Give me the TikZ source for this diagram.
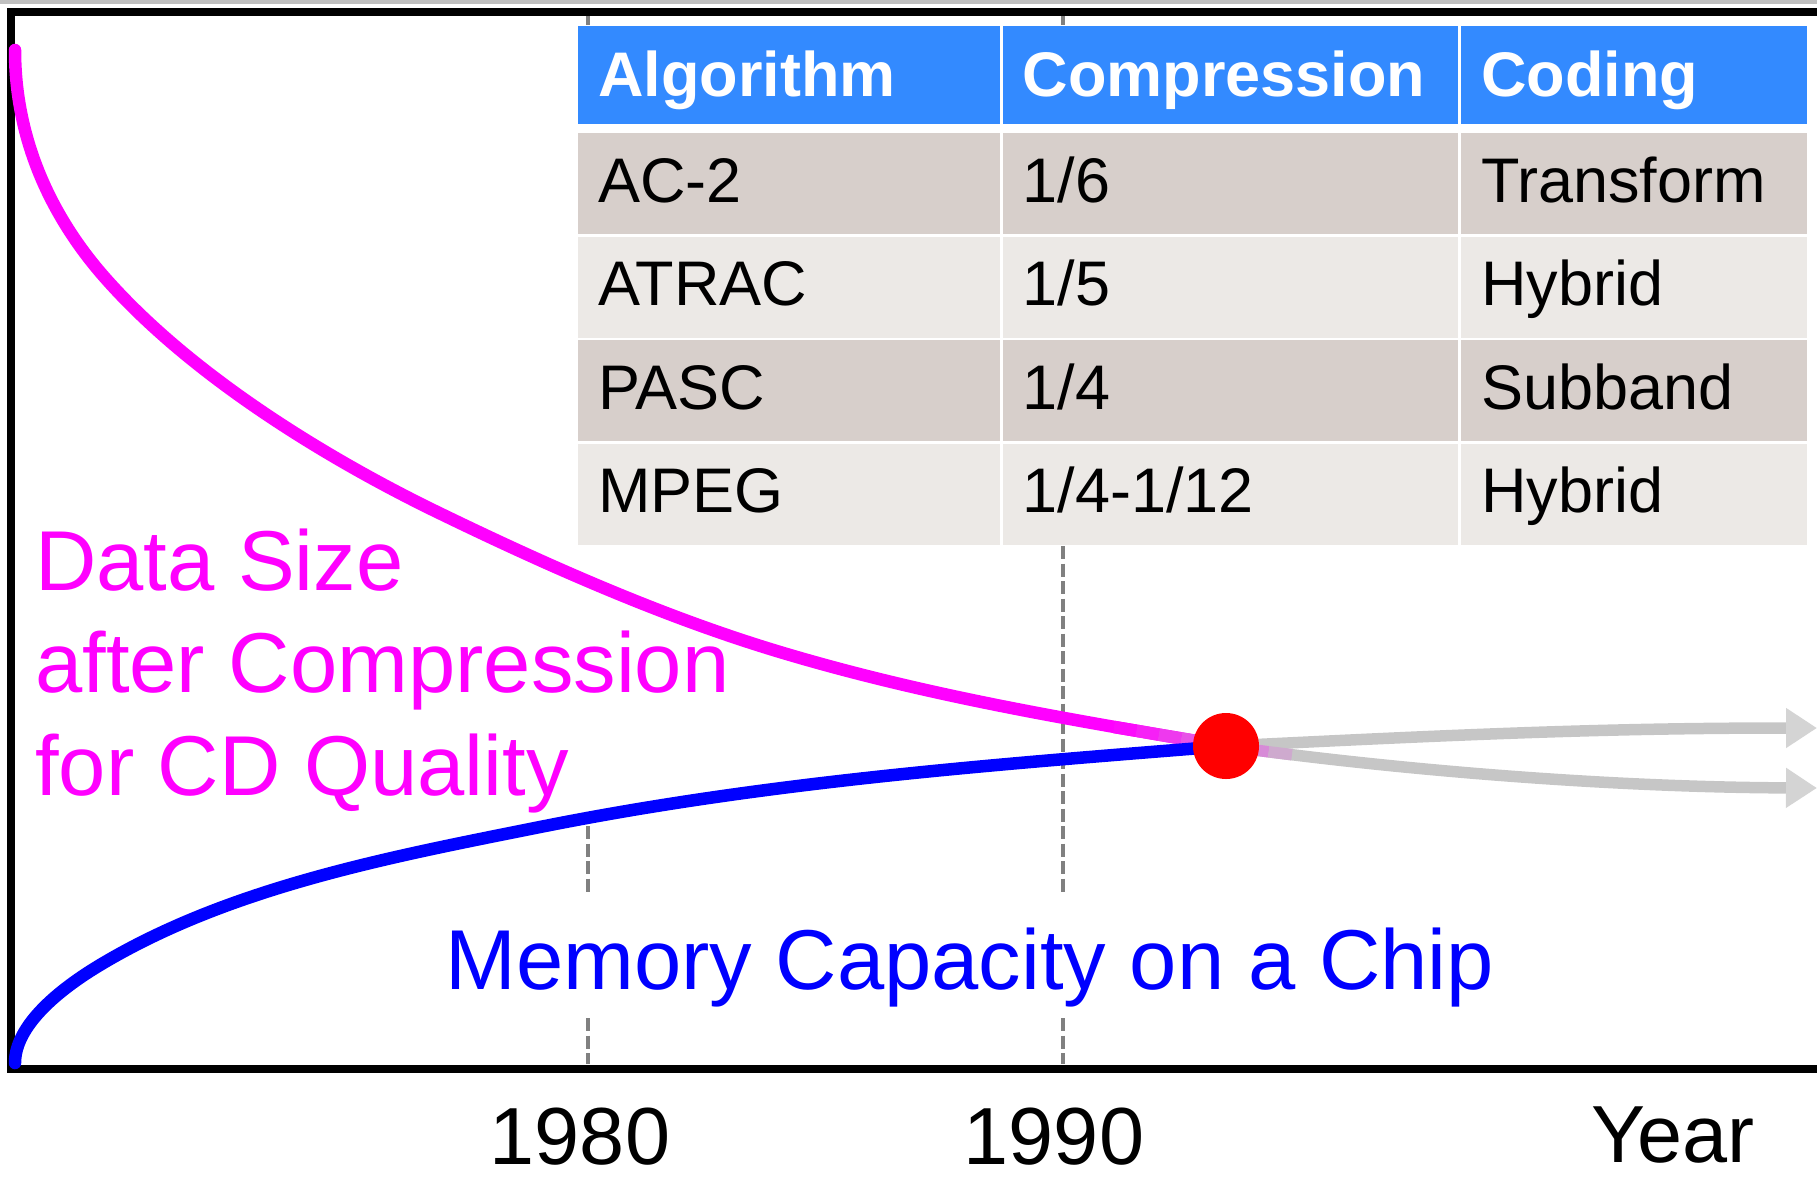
\documentclass[tikz,border=0pt]{standalone}
\usepackage{fontspec}
\setmainfont{Liberation Sans}
\usetikzlibrary{arrows.meta}
\definecolor{hdrblue}{RGB}{51,138,255}
\definecolor{rowdark}{RGB}{215,207,203}
\definecolor{rowlight}{RGB}{236,233,230}
\definecolor{dashgray}{RGB}{128,128,128}
\definecolor{topbar}{RGB}{192,192,192}
\definecolor{trendgray}{RGB}{198,198,198}
\definecolor{headgray}{RGB}{212,212,212}
\definecolor{magentaline}{RGB}{255,0,255}
\definecolor{blueline}{RGB}{0,0,255}
\definecolor{dotred}{RGB}{255,0,0}
\begin{document}
\begin{tikzpicture}[x=1pt,y=-1pt,
  cell/.style={anchor=north west, inner xsep=20pt, inner ysep=0pt, align=left,
    font=\fontsize{63}{75}\selectfont, text=black},
  hdr/.style={cell, fill=hdrblue, text=white, font=\fontsize{63}{75}\selectfont\bfseries,
    text height=71pt, text depth=27.5pt},
  rowa/.style={cell, fill=rowdark, text height=69pt, text depth=32pt},
  rowb/.style={cell, fill=rowlight, text height=69pt, text depth=32pt},
  colA/.style={text width=381.5pt},
  colB/.style={text width=415.5pt},
  colC/.style={text width=306pt},
  dashline/.style={draw=dashgray, line width=3.5pt, dash pattern=on 13pt off 4.5pt},
  frameline/.style={draw=black, line width=8pt},
  curveline/.style={line width=12.5pt, line cap=round, line join=round},
  fadeseg/.style={line width=12.5pt, line cap=butt},
  trendarrow/.style={draw=trendgray, line width=11.5pt,
    -{Triangle[width=38pt,length=31pt,color=headgray]}},
  biglabel/.style={anchor=base west, inner sep=0pt, font=\fontsize{85}{102}\selectfont},
  yearlabel/.style={inner sep=0pt, font=\fontsize{81}{97}\selectfont, text=black}
]
\useasboundingbox (0,0) rectangle (1817,1179);

% top light bar
\fill[topbar] (0,0) rectangle (1817,4);

% dashed year markers (visible parts)
\draw[dashline] (588,16) -- (588,25);
\draw[dashline] (588,826) -- (588,896);
\draw[dashline] (588,1018) -- (588,1064);
\draw[dashline] (1063,16) -- (1063,25);
\draw[dashline] (1063,546) -- (1063,896);
\draw[dashline] (1063,1018) -- (1063,1064);

% frame (axes)
\draw[frameline] (1817,12) -- (10.7,12) -- (10.7,1068.5) -- (1817,1068.5);

% table
\node[hdr,colA] (h1) at (578,25.5) {Algorithm};
\node[hdr,colB] (h2) at (1002.5,25.5) {Compression};
\node[hdr,colC] (h3) at (1461,25.5) {Coding};
\node[rowa,colA] (a1) at (578,133) {AC-2};
\node[rowa,colB] (a2) at (1002.5,133) {1/6};
\node[rowa,colC] (a3) at (1461,133) {Transform};
\node[rowb,colA] (b1) at (578,236.5) {ATRAC};
\node[rowb,colB] (b2) at (1002.5,236.5) {1/5};
\node[rowb,colC] (b3) at (1461,236.5) {Hybrid};
\node[rowa,colA] (c1) at (578,340) {PASC};
\node[rowa,colB] (c2) at (1002.5,340) {1/4};
\node[rowa,colC] (c3) at (1461,340) {Subband};
\node[rowb,colA] (d1) at (578,443.5) {MPEG};
\node[rowb,colB] (d2) at (1002.5,443.5) {1/4-1/12};
\node[rowb,colC] (d3) at (1461,443.5) {Hybrid};

\coordinate (cross) at (1226,746);
\coordinate (magStart) at (15,50);
\coordinate (blueStart) at (15,1063);
\coordinate (tipUp) at (1817,728);
\coordinate (tipDown) at (1817,788);

% data size curve (magenta)
\draw[curveline, draw=magentaline] (magStart)
  .. controls (15,150) and (60,225) .. (100,272)
  .. controls (190,377) and (333,461) .. (433,510)
  .. controls (548,566) and (665,617.5) .. (780,652)
  .. controls (930,697) and (1076,720.5) .. (cross);
% fade of magenta towards the trend colour
\draw[fadeseg, draw=magentaline!95!trendgray] (1114,727) -- (1136.4,730.75);
\draw[fadeseg, draw=magentaline!84!trendgray] (1136.4,730.75) -- (1158.7,734.6);
\draw[fadeseg, draw=magentaline!71!trendgray] (1158.7,734.6) -- (1181.1,738.4);
\draw[fadeseg, draw=magentaline!58!trendgray] (1181.1,738.4) -- (1203.5,742.2);
\draw[fadeseg, draw=magentaline!48!trendgray] (1203.5,742.2) -- (cross);

% memory capacity curve (blue)
\draw[curveline, draw=blueline] (blueStart)
  .. controls (15,1025) and (60,989) .. (100,965)
  .. controls (230,887) and (390,857) .. (540,827)
  .. controls (770,781) and (996,764.4) .. (cross);

% trend arrows
\draw[trendarrow] (cross) .. controls (1450,735) and (1600,728) .. (tipUp);
\draw[trendarrow] (cross) .. controls (1360,765) and (1580,787) .. (tipDown);
\draw[fadeseg, line width=11.5pt, draw=magentaline!30!trendgray] (1246.7,748.9) -- (1268.7,751.8);
\draw[fadeseg, line width=11.5pt, draw=magentaline!14!trendgray] (1268.7,751.8) -- (1291.9,754.7);

% crossing point
\node[circle, fill=dotred, minimum size=66pt, inner sep=0pt] (dot) at (cross) {};

% labels
\node[biglabel, text=magentaline] (ds1) at (35,590) {Data Size};
\node[biglabel, text=magentaline] (ds2) at (35,692) {after Compression};
\node[biglabel, text=magentaline] (ds3) at (35,795) {for CD Quality};
\node[biglabel, text=blueline] (mem) at (445,989) {Memory Capacity on a Chip};

\node[yearlabel, anchor=base] (y1980) at (580,1164) {1980};
\node[yearlabel, anchor=base] (y1990) at (1054,1164) {1990};
\node[yearlabel, anchor=base west] (yr) at (1591,1162) {Year};
\end{tikzpicture}
\end{document}
